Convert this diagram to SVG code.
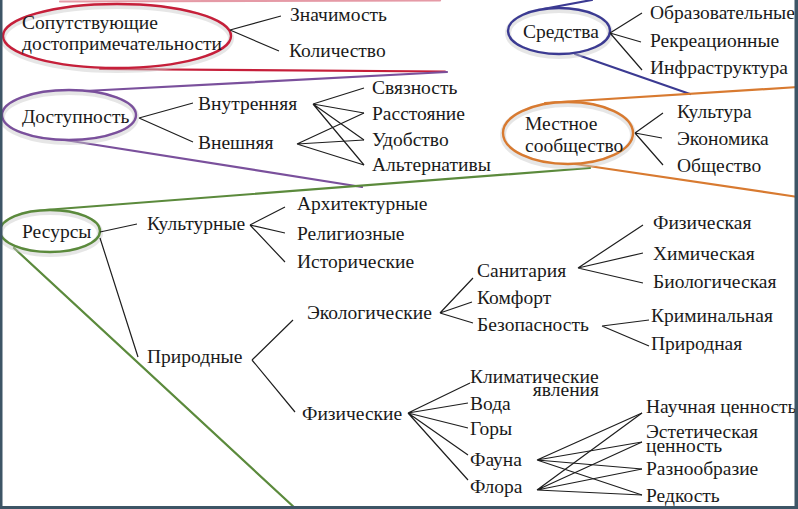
<svg xmlns="http://www.w3.org/2000/svg" width="798" height="509" viewBox="0 0 798 509">
<style>
  .c { stroke: #1e1e1e; stroke-width: 1.2; fill: none; }
  .sh { fill: none; stroke: #c8c8c8; stroke-width: 6; stroke-opacity: 0.45; }
  .f { fill: none; stroke-width: 2.2; stroke-linecap: round; }
  .red { stroke: #c61f3a; }
  .pur { stroke: #7a509c; }
  .nav { stroke: #3b3a92; }
  .org { stroke: #d87a30; }
  .grn { stroke: #5b8a3c; }
</style>
<rect x="0" y="0" width="798" height="509" fill="#ffffff"/>

<g id="funnels">
  <line class="f red" x1="60" y1="1.5" x2="440" y2="0.5" opacity="0.45"/>
  <line class="f red" x1="100" y1="69" x2="445" y2="71.5"/>
  <line class="f pur" x1="85" y1="91" x2="447" y2="72"/>
  <line class="f pur" x1="65" y1="140" x2="362" y2="187"/>
  <line class="f nav" x1="543" y1="9" x2="592" y2="0"/>
  <line class="f nav" x1="575" y1="54" x2="690" y2="94"/>
  <line class="f org" x1="545" y1="103" x2="798" y2="87"/>
  <line class="f org" x1="575" y1="164" x2="798" y2="197"/>
  <line class="f grn" x1="45" y1="210" x2="590" y2="168"/>
  <line class="f grn" x1="14" y1="248" x2="296" y2="509"/>
</g>

<g id="n-soput">
  <ellipse class="sh" cx="117" cy="38" rx="114" ry="32"/>
  <ellipse cx="117" cy="36" rx="114" ry="32" fill="none" stroke="#c61f3a" stroke-width="2.4"/>
  <text font-family="Liberation Serif" font-size="19.5" fill="#1a1a1a" x="22" y="29">Сопутствующие</text>
  <text font-family="Liberation Serif" font-size="19.5" fill="#1a1a1a" x="22" y="50">достопримечательности</text>
</g>
<g id="n-dostup">
  <ellipse class="sh" cx="69" cy="117" rx="67" ry="25"/>
  <ellipse cx="69" cy="115" rx="67" ry="25" fill="none" stroke="#7a509c" stroke-width="2.4"/>
  <text font-family="Liberation Serif" font-size="19.5" fill="#1a1a1a" x="22" y="123">Доступность</text>
</g>
<g id="n-sredstva">
  <ellipse class="sh" cx="559" cy="33" rx="51" ry="23"/>
  <ellipse cx="559" cy="31" rx="51" ry="23" fill="none" stroke="#3b3a92" stroke-width="2.4"/>
  <text font-family="Liberation Serif" font-size="19.5" fill="#1a1a1a" x="523" y="38">Средства</text>
</g>
<g id="n-mestnoe">
  <ellipse class="sh" cx="568" cy="135" rx="65" ry="31"/>
  <ellipse cx="568" cy="133" rx="65" ry="31" fill="none" stroke="#d87a30" stroke-width="2.4"/>
  <text font-family="Liberation Serif" font-size="19.5" fill="#1a1a1a" x="525" y="130">Местное</text>
  <text font-family="Liberation Serif" font-size="19.5" fill="#1a1a1a" x="525" y="152">сообщество</text>
</g>
<g id="n-resursy">
  <ellipse class="sh" cx="50" cy="233" rx="50" ry="21"/>
  <ellipse cx="50" cy="231" rx="50" ry="21" fill="none" stroke="#5b8a3c" stroke-width="2.4"/>
  <text font-family="Liberation Serif" font-size="19.5" fill="#1a1a1a" x="22" y="238">Ресурсы</text>
</g>

<g id="connectors">
  <path class="c" d="M230,30 L281,16 M230,30 L279,51"/>
  <path class="c" d="M139,118 L193,103 M139,118 L193,142"/>
  <path class="c" d="M313,104 L364,88 M313,104 L364,113 M313,104 L364,140 M313,104 L364,165"/>
  <path class="c" d="M297,144 L364,113 M297,144 L364,140 M297,144 L364,165"/>
  <path class="c" d="M610,33 L642,13 M610,33 L641,42 M610,33 L642,70"/>
  <path class="c" d="M635,133 L663,113 M635,133 L662,138 M635,133 L663,165"/>
  <path class="c" d="M100,232 L137,224 M100,238 L138,357"/>
  <path class="c" d="M250,225 L285,207 M250,225 L285,233 M250,225 L285,262"/>
  <path class="c" d="M252,360 L293,320 M252,360 L295,412"/>
  <path class="c" d="M440,313 L473,278 M440,313 L472,302 M440,313 L473,323"/>
  <path class="c" d="M578,268 L643,225 M578,268 L643,253 M578,268 L643,283"/>
  <path class="c" d="M602,326 L649,320 M602,326 L649,346"/>
  <path class="c" d="M408,413 L470,383 M408,413 L468,403 M408,413 L468,428 M408,413 L468,455 M408,413 L468,480"/>
  <path class="c" d="M537,460 L642,413 M537,460 L642,442 M537,460 L642,469 M537,460 L642,495"/>
  <path class="c" d="M537,490 L642,413 M537,490 L642,442 M537,490 L642,469 M537,490 L642,495"/>
</g>

<g id="n-znachimost"><text font-family="Liberation Serif" font-size="19.5" fill="#1a1a1a" x="290" y="21">Значимость</text></g>
<g id="n-kolichestvo"><text font-family="Liberation Serif" font-size="19.5" fill="#1a1a1a" x="289" y="57">Количество</text></g>
<g id="n-vnutr"><text font-family="Liberation Serif" font-size="19.5" fill="#1a1a1a" x="198" y="110">Внутренняя</text></g>
<g id="n-vnesh"><text font-family="Liberation Serif" font-size="19.5" fill="#1a1a1a" x="198" y="149">Внешняя</text></g>
<g id="n-svyaz"><text font-family="Liberation Serif" font-size="19.5" fill="#1a1a1a" x="372" y="94">Связность</text></g>
<g id="n-rasst"><text font-family="Liberation Serif" font-size="19.5" fill="#1a1a1a" x="372" y="120">Расстояние</text></g>
<g id="n-udob"><text font-family="Liberation Serif" font-size="19.5" fill="#1a1a1a" x="372" y="146">Удобство</text></g>
<g id="n-alt"><text font-family="Liberation Serif" font-size="19.5" fill="#1a1a1a" x="372" y="171">Альтернативы</text></g>
<g id="n-obraz"><text font-family="Liberation Serif" font-size="19.5" fill="#1a1a1a" x="650" y="19">Образовательные</text></g>
<g id="n-rekr"><text font-family="Liberation Serif" font-size="19.5" fill="#1a1a1a" x="650" y="47">Рекреационные</text></g>
<g id="n-infra"><text font-family="Liberation Serif" font-size="19.5" fill="#1a1a1a" x="650" y="74">Инфраструктура</text></g>
<g id="n-kultura"><text font-family="Liberation Serif" font-size="19.5" fill="#1a1a1a" x="677" y="118">Культура</text></g>
<g id="n-ekonom"><text font-family="Liberation Serif" font-size="19.5" fill="#1a1a1a" x="677" y="145">Экономика</text></g>
<g id="n-obsh"><text font-family="Liberation Serif" font-size="19.5" fill="#1a1a1a" x="677" y="172">Общество</text></g>
<g id="n-kulturnye"><text font-family="Liberation Serif" font-size="19.5" fill="#1a1a1a" x="147" y="230">Культурные</text></g>
<g id="n-prirodnye"><text font-family="Liberation Serif" font-size="19.5" fill="#1a1a1a" x="147" y="363">Природные</text></g>
<g id="n-arh"><text font-family="Liberation Serif" font-size="19.5" fill="#1a1a1a" x="297" y="210">Архитектурные</text></g>
<g id="n-relig"><text font-family="Liberation Serif" font-size="19.5" fill="#1a1a1a" x="297" y="240">Религиозные</text></g>
<g id="n-istor"><text font-family="Liberation Serif" font-size="19.5" fill="#1a1a1a" x="297" y="268">Исторические</text></g>
<g id="n-ekol"><text font-family="Liberation Serif" font-size="19.5" fill="#1a1a1a" x="307" y="319">Экологические</text></g>
<g id="n-fiz"><text font-family="Liberation Serif" font-size="19.5" fill="#1a1a1a" x="302" y="420">Физические</text></g>
<g id="n-sanit"><text font-family="Liberation Serif" font-size="19.5" fill="#1a1a1a" x="477" y="277">Санитария</text></g>
<g id="n-komf"><text font-family="Liberation Serif" font-size="19.5" fill="#1a1a1a" x="477" y="304">Комфорт</text></g>
<g id="n-bezop"><text font-family="Liberation Serif" font-size="19.5" fill="#1a1a1a" x="477" y="331">Безопасность</text></g>
<g id="n-fizich"><text font-family="Liberation Serif" font-size="19.5" fill="#1a1a1a" x="653" y="229">Физическая</text></g>
<g id="n-him"><text font-family="Liberation Serif" font-size="19.5" fill="#1a1a1a" x="653" y="260">Химическая</text></g>
<g id="n-biol"><text font-family="Liberation Serif" font-size="19.5" fill="#1a1a1a" x="653" y="288">Биологическая</text></g>
<g id="n-krim"><text font-family="Liberation Serif" font-size="19.5" fill="#1a1a1a" x="651" y="322">Криминальная</text></g>
<g id="n-prirodnaya"><text font-family="Liberation Serif" font-size="19.5" fill="#1a1a1a" x="651" y="350">Природная</text></g>
<g id="n-klimat"><text font-family="Liberation Serif" font-size="19.5" fill="#1a1a1a" x="470" y="383">Климатические</text><text font-family="Liberation Serif" font-size="19.5" fill="#1a1a1a" x="599" y="396" text-anchor="end">явления</text></g>
<g id="n-voda"><text font-family="Liberation Serif" font-size="19.5" fill="#1a1a1a" x="470" y="410">Вода</text></g>
<g id="n-gory"><text font-family="Liberation Serif" font-size="19.5" fill="#1a1a1a" x="470" y="435">Горы</text></g>
<g id="n-fauna"><text font-family="Liberation Serif" font-size="19.5" fill="#1a1a1a" x="470" y="466">Фауна</text></g>
<g id="n-flora"><text font-family="Liberation Serif" font-size="19.5" fill="#1a1a1a" x="470" y="493">Флора</text></g>
<g id="n-nauch"><text font-family="Liberation Serif" font-size="19.5" fill="#1a1a1a" x="646" y="413">Научная ценность</text></g>
<g id="n-estet"><text font-family="Liberation Serif" font-size="19.5" fill="#1a1a1a" x="646" y="438">Эстетическая</text><text font-family="Liberation Serif" font-size="19.5" fill="#1a1a1a" x="646" y="452">ценность</text></g>
<g id="n-raznoobr"><text font-family="Liberation Serif" font-size="19.5" fill="#1a1a1a" x="646" y="475">Разнообразие</text></g>
<g id="n-redk"><text font-family="Liberation Serif" font-size="19.5" fill="#1a1a1a" x="646" y="502">Редкость</text></g>

<g id="frame" fill="#3d5566">
  <rect x="0" y="0" width="2.5" height="509"/>
  <rect x="794.5" y="0" width="3.5" height="509"/>
  <rect x="0" y="506" width="798" height="3"/>
</g>
</svg>
